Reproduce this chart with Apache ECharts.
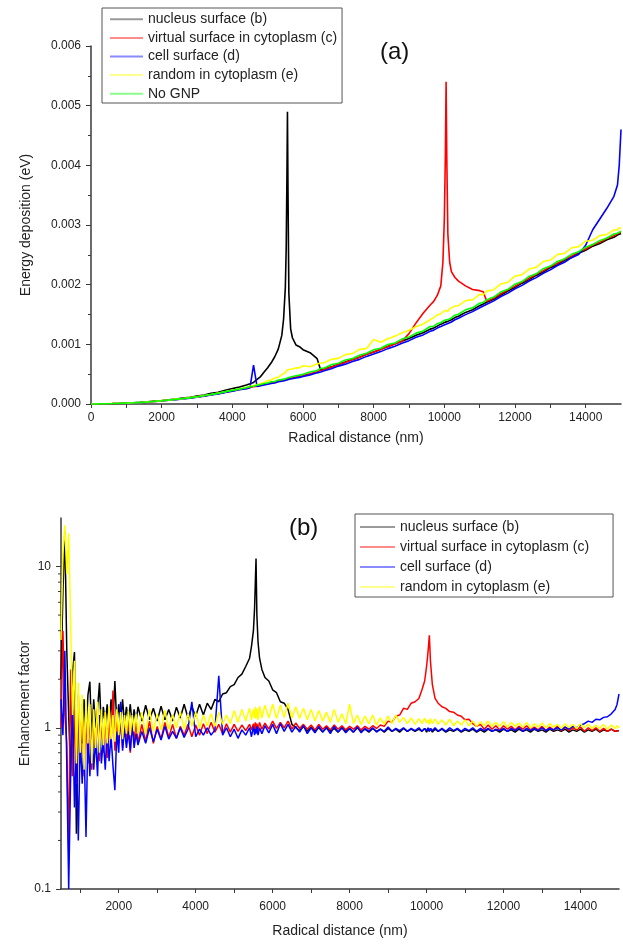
<!DOCTYPE html>
<html>
<head>
<meta charset="utf-8">
<script src="https://cdn.jsdelivr.net/npm/echarts@6/dist/echarts.min.js"></script>
<style>html,body{margin:0;padding:0;background:#fff;}#c{width:623px;height:944px;}</style>
</head>
<body>
<div id="c"></div>
<script>
// ---------- Panel (a): energy deposition ----------
const xTop = [0,200,400,600,800,1000,1200,1400,1600,1800,2000,2200,2400,2600,2800,3000,3200,3400,3600,3800,4000,4200,4400,
4500,4600,4700,4800,4900,5000,5100,5200,5300,
5400,5450,5500,5525,5545,5560,5575,5600,5650,5700,5800,
5900,6000,6200,6400,6500,6600,6800,7000,7200,7400,7600,7800,8000,8200,8400,8600,8800,9000,9200,9400,9600,
9700,9800,9900,9960,10000,10030,10050,10070,10100,10150,10200,10300,10400,10600,10800,11000,11100,11200,
11400,11600,11800,12000,12200,12400,12600,12800,13000,13200,13400,13600,13800,14000,14200,14400,14600,14800,14900,14950,15000];

const topNucleus = [0,0.000002,0.000005,0.000007,0.000011,0.000017,0.000022,0.000029,0.000038,0.000049,0.000058,0.000072,0.000085,0.0001,0.000113,0.000135,0.000152,0.000178,0.000196,0.000232,0.000258,0.000286,0.000318,
0.000338,0.000362,0.000412,0.00046,0.000535,0.000608,0.00069,0.000792,0.00092,
0.00115,0.00142,0.00195,0.00262,0.0038,0.0049,0.0036,0.00185,0.00126,0.00111,0.00099,
0.00096,0.00091,0.00086,0.00076,0.00057,0.000585,0.000622,0.000668,0.000702,0.000748,0.000785,0.000835,0.000872,0.000918,0.000962,0.001008,0.001052,0.001098,0.001152,0.001195,0.001255,
0.001275,0.001305,0.001338,0.001352,0.001365,0.001372,0.001375,0.001382,0.001385,0.001402,0.001412,0.001448,0.001472,0.001535,0.00158,0.001648,0.001675,0.001705,
0.001755,0.001828,0.001895,0.001955,0.002025,0.002085,0.002155,0.002212,0.002285,0.002335,0.002408,0.002455,0.002528,0.002575,0.002645,0.002688,0.002752,0.002795,0.002832,0.002835,0.002858];

const topVirtual = [0,0.000002,0.000004,0.000006,0.00001,0.000015,0.00002,0.000025,0.000033,0.000043,0.000052,0.000063,0.000076,0.000088,0.0001,0.000116,0.000133,0.000154,0.000172,0.000198,0.000218,0.000242,0.000262,
0.000278,0.00029,0.0003,0.000312,0.000326,0.00034,0.000354,0.000362,0.000382,
0.000392,0.000402,0.000406,0.000412,0.000409,0.000418,0.000422,0.00042,0.000432,0.000442,0.00045,
0.00046,0.000478,0.000508,0.000542,0.000562,0.000578,0.000618,0.000662,0.000698,0.000742,0.000782,0.000832,0.000872,0.000915,0.000962,0.001005,0.00105,0.00118,0.00136,0.00152,0.00166,
0.00172,0.00182,0.00198,0.00238,0.0031,0.0042,0.0054,0.0041,0.00285,0.00238,0.00222,0.00212,0.00206,0.00198,0.00192,0.0019,0.00188,0.00172,
0.001775,0.001848,0.001912,0.001975,0.002042,0.002108,0.002172,0.002235,0.002302,0.002358,0.002425,0.002478,0.002545,0.002598,0.002665,0.002712,0.002772,0.002818,0.002852,0.002862,0.002878];

const topCell = [0,0.000002,0.000004,0.000005,0.000009,0.000014,0.000019,0.000024,0.000032,0.000042,0.000051,0.000062,0.000074,0.000086,0.000098,0.000114,0.00013,0.000151,0.000168,0.000194,0.000214,0.000238,0.000258,
0.000274,0.00065,0.000292,0.000305,0.000318,0.000332,0.000346,0.000352,0.000372,
0.000382,0.000392,0.000395,0.000404,0.000398,0.000408,0.000412,0.000408,0.000418,0.000428,0.000436,
0.000446,0.000462,0.000488,0.000522,0.000538,0.000558,0.000592,0.000635,0.000668,0.000712,0.000748,0.000798,0.000838,0.000878,0.000928,0.000968,0.001018,0.001062,0.001118,0.001158,0.001218,
0.001238,0.001272,0.001298,0.001315,0.001328,0.001332,0.001338,0.001342,0.001348,0.001368,0.001375,0.001412,0.001438,0.001498,0.001548,0.001612,0.001642,0.001672,
0.001728,0.001802,0.001858,0.001932,0.001988,0.002062,0.002118,0.002192,0.002248,0.002322,0.002375,0.002452,0.002505,0.00266,0.00292,0.0031,0.00328,0.00348,0.00367,0.004,0.0046];

const topRandom = [0,0.000003,0.000004,0.000008,0.000011,0.000015,0.000022,0.000026,0.000036,0.000044,0.000057,0.000065,0.000082,0.00009,0.000108,0.00012,0.000142,0.000158,0.000184,0.000204,0.000234,0.00025,0.00028,
0.000295,0.00031,0.000322,0.000345,0.000358,0.000392,0.000402,0.000435,0.000448,
0.000492,0.000515,0.000528,0.000552,0.000536,0.000575,0.000548,0.000568,0.000582,0.000596,0.000605,
0.000605,0.00064,0.000625,0.000672,0.000688,0.000692,0.000748,0.000765,0.000828,0.000845,0.000915,0.000932,0.00108,0.001035,0.001095,0.001135,0.001192,0.001235,0.001295,0.00134,0.001412,
0.001448,0.001492,0.001512,0.001545,0.00153,0.00157,0.001545,0.001575,0.001552,0.001598,0.001582,0.00164,0.001648,0.001732,0.001745,0.001838,0.001832,0.001892,
0.001915,0.002012,0.002042,0.002142,0.002168,0.002262,0.00229,0.002388,0.002412,0.002505,0.002525,0.002618,0.002638,0.002728,0.002745,0.002822,0.002842,0.002918,0.002915,0.002955,0.002948];

const topNoGNP = [0,0.000002,0.000005,0.000006,0.00001,0.000016,0.00002,0.000027,0.000034,0.000046,0.000054,0.000067,0.000078,0.000092,0.000103,0.000122,0.000138,0.000162,0.000178,0.000207,0.000228,0.000252,0.000273,
0.000292,0.000298,0.000314,0.000328,0.000343,0.000352,0.000372,0.000378,0.000402,
0.000408,0.000423,0.000421,0.000434,0.000428,0.000437,0.000442,0.000438,0.000453,0.000458,0.000474,
0.000484,0.000497,0.000536,0.000562,0.000598,0.000604,0.000658,0.000684,0.000738,0.000762,0.000818,0.000852,0.000908,0.000934,0.000998,0.001022,0.001088,0.001122,0.001188,0.001224,0.001298,
0.001304,0.001348,0.001362,0.001388,0.001394,0.001408,0.001402,0.001418,0.001414,0.001446,0.001442,0.001488,0.001504,0.001578,0.001612,0.001688,0.001702,0.001748,
0.001792,0.001878,0.001922,0.002008,0.002052,0.002138,0.002182,0.002268,0.002312,0.002388,0.002432,0.002508,0.002552,0.002628,0.002672,0.002738,0.002782,0.002848,0.002862,0.002888,0.002896];

// ---------- Panel (b): enhancement factor ----------
const xBot = [500,550,600,650,700,750,800,850,900,950,1000,1050,1100,1150,1200,1250,1300,1350,1400,1450,
1500,1550,1600,1650,1700,1750,1800,1850,1900,1950,2000,2050,2100,2150,2200,2250,2300,2350,2400,2450,2500,
2600,2700,2800,2900,3000,3100,3200,3300,3400,3500,3600,3700,3800,3900,4000,4100,4200,4300,4400,4500,4600,4700,4800,4900,5000,5100,5200,
5300,5400,5450,5500,5530,5550,5568,5590,5620,5660,5720,5800,
5900,6000,6100,6200,6300,6400,6500,6600,6700,6800,6900,7000,7100,7200,7300,7400,7500,7600,7700,7800,
7900,8000,8100,8200,8300,8400,8500,8600,8700,8800,8900,9000,9100,9200,9300,9400,9500,9600,9700,
9800,9880,9950,10000,10040,10072,10100,10150,10220,10300,
10400,10500,10600,10700,10800,10900,11000,11100,11200,11300,11400,11500,11600,11700,11800,11900,
12000,12100,12200,12300,12400,12500,12600,12700,12800,12900,13000,13100,13200,13300,13400,13500,13600,13700,13800,13900,
14000,14100,14200,14300,14400,14500,14600,14700,14800,14900,14950,15000];

const botNucleus = [2.0,7.0,16.5,3.0,1.2,0.5,2.2,2.95,0.22,1.3, 0.95,0.8,1.5,0.9,1.6,1.93,0.85,1.5,1.0,1.3,
1.9,0.95,1.35,1.05,1.4,1.0,1.5,1.1,1.95,1.05, 1.4,1.1,1.5,1.05,1.35,1.1,1.4,1.05,1.3,1.08, 1.35,
1.1,1.38,1.12,1.32,1.1,1.36,1.12,1.3,1.1,1.34, 1.15,1.4,1.15,1.35,1.18,1.4,1.2,1.42,1.3,1.5, 1.45,1.62,1.65,1.8,1.85,2.05,2.15,
2.4,2.7,3.2,4.0,5.5,8.0,11.2,5.0,3.4,2.7,2.3,2.05,
1.95,1.72,1.65,1.45,1.42,1.3,1.05,1.0,0.96,1.02, 0.95,1.01,0.95,1.0,0.94,1.01,0.95,0.99,0.94,1.0,
0.95,0.99,0.94,1.0,0.95,0.98,0.94,0.99,0.95,0.98, 0.94,0.99,0.95,0.98,0.94,0.99,0.95,0.98,0.95,
0.98,0.95,0.99,0.94,0.98,0.95,0.99,0.94,0.98,0.95,
0.98,0.94,0.97,0.95,0.98,0.94,0.97,0.95,0.98,0.94, 0.97,0.94,0.98,0.95,0.97,0.94,0.98,0.95,0.97,0.94,
0.98,0.95,0.97,0.94,0.98,0.95,0.97,0.94,0.98,0.95, 0.97,0.95,0.98,0.94,0.97,0.95,0.98,0.94,0.97,0.95,
0.98,0.94,0.97,0.95,0.98,0.95,0.97,0.96];

const botVirtual = [1.0,4.0,1.2,0.8,0.17,2.3,0.5,1.3,0.45,1.6, 0.6,1.4,0.5,1.2,0.6,1.35,0.55,1.1,0.7,1.3,
0.62,1.15,0.7,1.25,0.65,1.2,0.75,1.7,0.72,1.15, 0.8,1.1,0.75,1.15,0.8,1.1,0.7,1.05,0.82,1.12, 0.8,
1.05,0.82,1.1,0.8,1.02,0.85,1.08,0.87,1.05,0.86, 1.02,0.9,1.05,0.88,1.04,0.9,1.06,0.92,1.08,0.94, 1.05,0.92,1.06,0.94,1.05,0.95,1.04,
0.96,1.05,0.97,1.06,0.96,1.08,0.98,1.06,0.97,1.08,0.98,1.07,
0.98,1.1,0.99,1.08,1.0,1.1,0.98,1.07,0.99,1.05, 0.98,1.04,0.97,1.05,0.98,1.03,0.97,1.04,0.98,1.03,
0.97,1.02,0.98,1.03,0.97,1.02,0.98,1.03,0.99,1.04, 1.02,1.1,1.08,1.18,1.2,1.32,1.3,1.42,1.45,
1.52,1.72,1.95,2.4,3.0,3.75,2.6,1.85,1.52,1.42,
1.35,1.32,1.26,1.25,1.2,1.18,1.12,1.13,1.06,1.02, 1.05,0.98,1.04,0.98,1.03,0.97,1.03,0.98,1.02,0.97,
1.02,0.98,1.03,0.97,1.01,0.97,1.02,0.96,1.01,0.97, 1.02,0.96,1.01,0.96,1.0,0.97,1.01,0.95,1.0,0.96,
1.0,0.95,0.99,0.95,0.98,0.95,0.97,0.96];

const botCell = [1.5,0.9,3.0,0.6,0.1,0.5,1.5,0.32,0.75,0.2, 0.9,0.45,0.8,0.21,0.95,0.5,1.05,0.55,0.85,0.5,
1.2,0.6,0.85,0.55,1.0,0.62,0.9,0.58,0.41,0.95, 0.7,1.45,0.72,1.0,0.75,0.95,0.72,1.05,0.75,0.92, 0.78,
0.95,0.8,1.0,0.82,0.98,0.84,1.02,0.85,0.95,0.86, 1.0,0.87,0.98,1.45,0.88,0.98,0.9,1.0,0.9,0.97, 2.1,0.9,1.0,0.88,0.98,0.86,0.97,
0.9,1.0,0.88,1.02,0.9,0.98,0.92,1.02,0.9,1.0,0.92,1.03,
0.93,1.05,0.92,1.06,0.95,1.05,0.94,1.02,0.94,1.03, 0.92,1.0,0.93,1.02,0.94,1.0,0.92,1.02,0.94,1.0,
0.93,0.99,0.94,1.01,0.93,0.99,0.95,1.0,0.94,0.98, 0.95,1.01,0.95,0.99,0.96,1.0,0.95,0.99,0.96,
1.0,0.95,0.99,0.96,1.0,0.95,0.99,0.96,1.0,0.95,
0.99,0.95,1.0,0.96,0.99,0.95,0.99,0.96,1.0,0.95, 0.99,0.96,0.99,0.95,0.98,0.96,0.99,0.95,0.99,0.96,
1.0,0.95,0.99,0.96,0.99,0.96,1.0,0.96,0.99,0.97, 1.0,0.97,1.01,0.98,1.02,1.0,1.04,1.06,1.1,1.08,
1.13,1.12,1.16,1.17,1.22,1.3,1.4,1.62];

const botRandom = [3.5,12,18,9,16,4.5,1.2,2.6,0.6,1.9, 0.7,1.6,0.55,1.5,0.8,1.4,0.6,1.3,0.75,1.45,
0.7,1.3,0.78,1.25,0.8,1.35,0.85,1.2,0.82,1.3, 0.9,1.25,0.85,1.2,0.92,1.28,0.9,1.2,0.95,1.22, 0.92,
1.25,0.92,1.3,0.95,1.22,0.97,1.28,0.98,1.2,1.0, 1.26,0.98,1.22,1.02,1.25,1.0,1.2,1.03,1.22,1.02, 1.25,1.05,1.2,1.06,1.28,1.08,1.3,
1.1,1.32,1.12,1.3,1.15,1.35,1.14,1.32,1.12,1.36,1.15,1.38,
1.15,1.4,1.14,1.38,1.16,1.42,1.15,1.35,1.14,1.32, 1.12,1.3,1.1,1.28,1.1,1.25,1.08,1.3,1.08,1.22,
1.06,1.4,1.06,1.2,1.05,1.18,1.06,1.2,1.04,1.15, 1.05,1.18,1.06,1.2,1.08,1.16,1.06,1.15,1.05,
1.14,1.06,1.15,1.07,1.12,1.05,1.14,1.06,1.13,1.05,
1.12,1.04,1.13,1.03,1.1,1.04,1.12,1.03,1.1,1.02, 1.09,1.03,1.1,1.02,1.08,1.02,1.09,1.01,1.08,1.02,
1.07,1.01,1.08,1.0,1.06,1.01,1.07,1.0,1.06,1.01, 1.05,0.99,1.06,1.0,1.05,0.99,1.06,1.0,1.05,0.99,
1.04,0.99,1.05,0.98,1.04,0.99,1.03,1.0];

const logMinorTicks = [0.2,0.3,0.4,0.5,0.6,0.7,0.8,0.9,2,3,4,5,6,7,8,9];

const names = ['nucleus surface (b)','virtual surface in cytoplasm (c)','cell surface (d)','random in cytoplasm (e)','No GNP'];
const colors = ['#000000','#ff0000','#0000ff','#ffff00','#00ff00'];
const legendColors = ['#9a9a9a','#ff8a8a','#8a8aff','#ffff90','#8aff8a'];

function pairs(xs, ys) {
  if (xs.length !== ys.length) console.warn('length mismatch', xs.length, ys.length);
  const out = [];
  for (let i = 0; i < Math.min(xs.length, ys.length); i++) out.push([xs[i], ys[i]]);
  return out;
}

const FONT = 'Liberation Sans, Arial, sans-serif';
const axisLineStyle = {color: '#3a3a3a', width: 1.5};
const labelStyle = {fontFamily: FONT, fontSize: 12, color: '#222'};
const nameStyle = {fontFamily: FONT, fontSize: 14, color: '#222'};

const topData = [topNucleus, topVirtual, topCell, topRandom, topNoGNP];
const botData = [botNucleus, botVirtual, botCell, botRandom];

const series = [];
topData.forEach((d, i) => series.push({
  type: 'line', name: names[i], xAxisIndex: 0, yAxisIndex: 0,
  data: pairs(xTop, d), showSymbol: false, symbol: 'none',
  lineStyle: {color: colors[i], width: 1.6}, itemStyle: {color: colors[i]},
  emphasis: {disabled: true}, z: 2 + i
}));
botData.forEach((d, i) => series.push({
  type: 'line', name: names[i], xAxisIndex: 1, yAxisIndex: 1,
  data: pairs(xBot, d), showSymbol: false, symbol: 'none',
  lineStyle: {color: colors[i], width: 1.5}, itemStyle: {color: colors[i]},
  emphasis: {disabled: true}, z: 2 + i
}));
series.push({
  type: 'custom', xAxisIndex: 1, yAxisIndex: 1, silent: true, z: 10,
  data: logMinorTicks.map(v => [500, v]),
  renderItem: function (params, api) {
    const c = api.coord([api.value(0), api.value(1)]);
    return {type: 'line', shape: {x1: c[0] - 3, y1: c[1], x2: c[0], y2: c[1]},
      style: {stroke: '#3a3a3a', lineWidth: 1}};
  }
});

const option = {
  animation: false,
  backgroundColor: '#ffffff',
  title: [
    {text: '(a)', left: 375, top: 35, textStyle: {fontFamily: FONT, fontSize: 24, fontWeight: 'normal', color: '#111'}},
    {text: '(b)', left: 284, top: 511, textStyle: {fontFamily: FONT, fontSize: 24, fontWeight: 'normal', color: '#111'}}
  ],
  legend: [
    {
      left: 102, top: 8, orient: 'vertical', selectedMode: false,
      padding: [2, 5, 0, 8], itemGap: 0, itemWidth: 33, itemHeight: 2, icon: 'rect',
      borderColor: '#555', borderWidth: 1, backgroundColor: '#fff',
      textStyle: {fontFamily: FONT, fontSize: 14, color: '#222', lineHeight: 18.6},
      data: names.map((n, i) => ({name: n, itemStyle: {color: legendColors[i]}}))
    },
    {
      left: 355, top: 514, orient: 'vertical', selectedMode: false,
      padding: [3, 24, 0, 5], itemGap: 0, itemWidth: 35, itemHeight: 2, icon: 'rect',
      borderColor: '#555', borderWidth: 1, backgroundColor: '#fff',
      textStyle: {fontFamily: FONT, fontSize: 14, color: '#222', lineHeight: 20},
      data: names.slice(0, 4).map((n, i) => ({name: n, itemStyle: {color: legendColors[i]}}))
    }
  ],
  grid: [
    {left: 91, top: 46, width: 530, height: 358},
    {left: 61, top: 518, width: 558, height: 371}
  ],
  xAxis: [
    {
      type: 'value', gridIndex: 0, min: 0, max: 15000, interval: 1000,
      name: 'Radical distance (nm)', nameLocation: 'middle', nameGap: 27, nameTextStyle: nameStyle,
      nameMoveOverlap: false,
      axisLine: {show: true, onZero: false, lineStyle: axisLineStyle},
      axisTick: {show: true, length: 4, lineStyle: {color: '#3a3a3a'}},
      axisLabel: Object.assign({margin: 8, showMaxLabel: false,
        formatter: v => (v % 2000 === 0 && v < 15000) ? String(v) : ''}, labelStyle),
      splitLine: {show: false}
    },
    {
      type: 'value', gridIndex: 1, min: 500, max: 15000, splitNumber: 14,
      name: 'Radical distance (nm)', nameLocation: 'middle', nameGap: 35, nameTextStyle: nameStyle,
      nameMoveOverlap: false,
      axisLine: {show: true, onZero: false, lineStyle: axisLineStyle},
      axisTick: {show: true, length: 4, lineStyle: {color: '#3a3a3a'}},
      axisLabel: Object.assign({margin: 12, showMinLabel: false, showMaxLabel: false,
        formatter: v => (v % 2000 === 0 && v < 15000) ? String(v) : ''}, labelStyle),
      splitLine: {show: false}
    }
  ],
  yAxis: [
    {
      type: 'value', gridIndex: 0, min: 0, max: 0.006, interval: 0.001,
      name: 'Energy deposition (eV)', nameLocation: 'middle', nameGap: 58, nameTextStyle: nameStyle,
      nameMoveOverlap: false,
      axisLine: {show: true, onZero: false, lineStyle: axisLineStyle},
      axisTick: {show: true, length: 5, lineStyle: {color: '#3a3a3a'}},
      minorTick: {show: true, splitNumber: 2, length: 3, lineStyle: {color: '#3a3a3a'}},
      axisLabel: Object.assign({margin: 10, formatter: v => v.toFixed(3)}, labelStyle),
      splitLine: {show: false}
    },
    {
      type: 'log', logBase: 10, gridIndex: 1, min: 0.1, max: 20,
      name: 'Enhancement factor', nameLocation: 'middle', nameGap: 29, nameTextStyle: nameStyle,
      nameMoveOverlap: false,
      axisLine: {show: true, onZero: false, lineStyle: axisLineStyle},
      axisTick: {show: true, length: 5, lineStyle: {color: '#3a3a3a'}},
      axisLabel: Object.assign({margin: 10, showMaxLabel: false,
        formatter: v => (v < 1 ? String(Math.round(v * 10) / 10) : String(Math.round(v)))}, labelStyle),
      splitLine: {show: false}
    }
  ],
  series: series
};

const chart = echarts.init(document.getElementById('c'), null, {renderer: 'canvas'});
chart.setOption(option);
</script>
</body>
</html>
